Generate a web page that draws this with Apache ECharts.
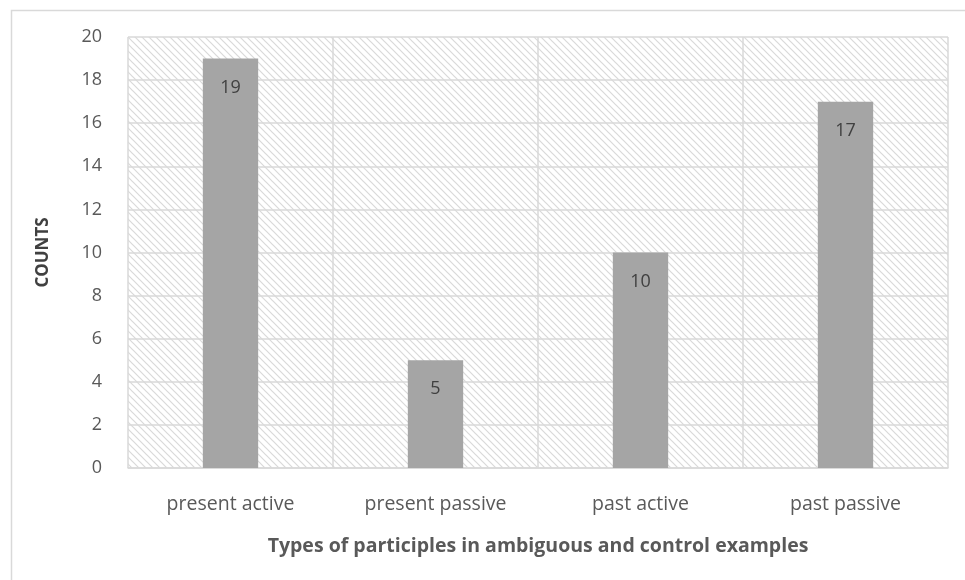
<!DOCTYPE html>
<html>
<head>
<meta charset="utf-8">
<script src="https://cdn.jsdelivr.net/npm/echarts@6/dist/echarts.min.js"></script>
<style>
html,body{margin:0;padding:0;background:#fff;}
#chart{width:965px;height:580px;}
</style>
</head>
<body>
<div id="chart"></div>
<script>
var categories = ['present active', 'present passive', 'past active', 'past passive'];
var counts = [19, 5, 10, 17];
var yTicks = [0, 2, 4, 6, 8, 10, 12, 14, 16, 18, 20];
var xTitle = 'Types of participles in ambiguous and control examples';
var yTitle = 'COUNTS';

function makeHatch() {
  var c = document.createElement('canvas');
  var s = 7;
  c.width = s; c.height = s;
  var ctx = c.getContext('2d');
  ctx.fillStyle = '#ffffff';
  ctx.fillRect(0, 0, s, s);
  ctx.strokeStyle = '#d9d9d9';
  ctx.lineWidth = 1.2;
  ctx.beginPath();
  ctx.moveTo(-2, -2); ctx.lineTo(s + 2, s + 2);
  ctx.moveTo(-2, s - 2); ctx.lineTo(2, s + 2);
  ctx.moveTo(s - 2, -2); ctx.lineTo(s + 2, 2);
  ctx.stroke();
  return c;
}

var chart = echarts.init(document.getElementById('chart'), null, {renderer: 'canvas'});
var font = '"Open Sans", "Liberation Sans", sans-serif';
chart.setOption({
  animation: false,
  backgroundColor: '#ffffff',
  graphic: [{
    type: 'rect', left: 9, top: 8, z: -10,
    shape: {width: 980, height: 600},
    style: {fill: 'none', stroke: '#d9d9d9', lineWidth: 1.5}
  }],
  grid: {
    left: 128, right: 17, top: 37, bottom: 112,
    show: true,
    borderWidth: 0,
    backgroundColor: {image: makeHatch(), repeat: 'repeat'}
  },
  xAxis: {
    type: 'category',
    data: categories,
    boundaryGap: true,
    name: xTitle,
    nameLocation: 'middle',
    nameGap: 68,
    nameTextStyle: {fontFamily: font, fontSize: 19.5, fontWeight: 'bold', color: '#595959'},
    axisLine: {show: true, lineStyle: {color: '#d9d9d9', width: 1.5}},
    axisTick: {show: false},
    splitLine: {show: true, lineStyle: {color: '#d9d9d9', width: 1.5}},
    axisLabel: {fontFamily: font, fontSize: 19.5, color: '#595959', margin: 26}
  },
  yAxis: {
    type: 'value',
    min: yTicks[0],
    max: yTicks[yTicks.length - 1],
    interval: 2,
    name: yTitle,
    nameLocation: 'middle',
    nameGap: 76,
    nameRotate: 90,
    nameTextStyle: {fontFamily: font, fontSize: 17, fontWeight: 'bold', color: '#404040'},
    axisLine: {show: false},
    axisTick: {show: false},
    splitLine: {show: true, lineStyle: {color: '#d9d9d9', width: 1.5}},
    axisLabel: {fontFamily: font, fontSize: 18, color: '#595959', margin: 26}
  },
  series: [{
    type: 'bar',
    data: counts,
    barWidth: '27%',
    itemStyle: {color: '#a5a5a5'},
    label: {
      show: true, position: 'insideTop', distance: 20,
      fontFamily: font, fontSize: 18, color: '#404040'
    }
  }]
});
</script>
</body>
</html>
